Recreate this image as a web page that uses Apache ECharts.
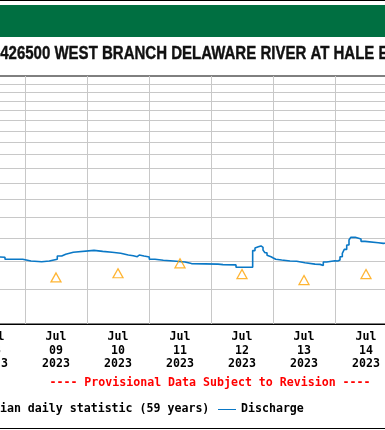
<!DOCTYPE html>
<html><head><meta charset="utf-8">
<script src="https://cdn.jsdelivr.net/npm/echarts@6/dist/echarts.min.js"></script>
<style>html,body{margin:0;padding:0;background:#fff}#c{width:385px;height:430px}</style>
</head><body><div id="c"></div>
<script>
const titleText = '01426500 WEST BRANCH DELAWARE RIVER AT HALE EDDY NY';
const provisionalText = '---- Provisional Data Subject to Revision ----';
const medianLegend = 'Median daily statistic (59 years)';
const dischargeLegend = 'Discharge';

const dischargeTimes = [
 '2023-07-08 00:00','2023-07-08 14:19','2023-07-08 16:15','2023-07-08 23:07','2023-07-09 02:19',
 '2023-07-09 06:28','2023-07-09 06:51','2023-07-09 09:25','2023-07-09 12:30','2023-07-09 14:13',
 '2023-07-09 15:45','2023-07-09 18:42','2023-07-10 02:43','2023-07-10 06:05','2023-07-10 09:41',
 '2023-07-10 13:03','2023-07-10 15:59','2023-07-10 17:55','2023-07-10 19:28','2023-07-10 20:15',
 '2023-07-10 22:04','2023-07-11 00:07','2023-07-11 02:19','2023-07-11 05:32','2023-07-11 09:25',
 '2023-07-11 10:04','2023-07-11 13:56','2023-07-11 16:27','2023-07-11 16:39','2023-07-12 02:43',
 '2023-07-12 04:39','2023-07-12 09:41','2023-07-12 16:08','2023-07-12 17:02','2023-07-12 17:48',
 '2023-07-12 18:19','2023-07-12 19:21','2023-07-12 20:08','2023-07-12 20:54','2023-07-12 21:41',
 '2023-07-12 22:27','2023-07-12 23:14','2023-07-13 00:07','2023-07-13 01:03','2023-07-13 03:23',
 '2023-07-13 06:35','2023-07-13 09:10','2023-07-13 09:30','2023-07-13 09:47','2023-07-13 12:23',
 '2023-07-13 16:16','2023-07-13 18:12','2023-07-13 18:35','2023-07-13 19:28','2023-07-13 20:47',
 '2023-07-13 21:25','2023-07-14 00:00','2023-07-14 01:03','2023-07-14 01:56','2023-07-14 02:50',
 '2023-07-14 03:36','2023-07-14 04:32','2023-07-14 05:25','2023-07-14 06:05','2023-07-14 07:50',
 '2023-07-14 10:04','2023-07-14 11:37','2023-07-14 16:46','2023-07-14 18:42','2023-07-15 00:00'
];
const dischargeValues = [
 618,617,609,602,599,
 595,602,609,622,629,
 637,645,641,637,633,
 626,623,619,626,622,
 618,609,605,602,595,
 598,592,595,590,588,
 587,578,644,655,660,
 664,658,646,635,625,
 619,614,609,606,602,
 601,595,598,595,590,
 589,587,585,598,594,
 603,602,606,619,633,
 649,668,690,702,694,
 684,678,675,678,678
];

const medianTimes = ['2023-07-08 12:00','2023-07-09 12:00','2023-07-10 12:00','2023-07-11 12:00','2023-07-12 12:00','2023-07-13 12:00','2023-07-14 12:00'];
const medianValues = [545, 541, 556, 593, 553, 532, 553];

const dayStarts = ['2023-07-08 00:00','2023-07-15 00:00'];
const labelTimes = ['2023-07-08 12:00','2023-07-09 12:00','2023-07-10 12:00','2023-07-11 12:00','2023-07-12 12:00','2023-07-13 12:00','2023-07-14 12:00'];
const tickLabels = ['Jul\n08\n2023','Jul\n09\n2023','Jul\n10\n2023','Jul\n11\n2023','Jul\n12\n2023','Jul\n13\n2023','Jul\n14\n2023'];
const yGridValues = [500,600,700,800,900,1000,1100,1200,1300,1400,1500,1600,1700,1800,1900];
const yMin = 400, yMax = 2000;

function utc(s) {
  const [d, t] = s.split(' ');
  const [Y, M, D] = d.split('-').map(Number);
  const [h, m] = t.split(':').map(Number);
  return Date.UTC(Y, M - 1, D, h, m);
}
const DAY = 86400000;
const labelMs = labelTimes.map(utc);
const mono = "'DejaVu Sans Mono', 'Liberation Mono', monospace";
const blue = '#0a78c6';

// fit the (horizontally condensed) title so that "426500" starts near the left edge and "EDDY" is cut at the right edge
const titleFont = "bold 18px 'Liberation Sans', Arial, sans-serif";
const mctx = document.createElement('canvas').getContext('2d');
mctx.font = titleFont;
const wLead = mctx.measureText('01').width;
const wSpan = mctx.measureText('426500 WEST BRANCH DELAWARE RIVER AT HALE ').width;
const titleScale = 378.3 / wSpan;
const titleX = 0.2 - titleScale * wLead;

const chart = echarts.init(document.getElementById('c'), null, {renderer: 'canvas'});
chart.setOption({
  animation: false,
  backgroundColor: '#fff',
  grid: {left: -37, right: -12, top: 76, bottom: 106, outerBoundsMode: 'none', containLabel: false,
         show: true, borderColor: '#000', borderWidth: 1, backgroundColor: 'transparent'},
  xAxis: {
    type: 'value', min: utc(dayStarts[0]), max: utc(dayStarts[1]), interval: DAY,
    axisLine: {show: true, lineStyle: {color: '#000', width: 1}},
    axisTick: {show: false},
    splitLine: {show: true, lineStyle: {color: '#c8c8c8', width: 1}},
    axisLabel: {
      customValues: labelMs,
      formatter: function (v) {
        let best = 0;
        for (let i = 0; i < labelMs.length; i++) if (Math.abs(labelMs[i] - v) < Math.abs(labelMs[best] - v)) best = i;
        return tickLabels[best];
      },
      color: '#000', fontFamily: mono, fontWeight: 'bold', fontSize: 11.6, lineHeight: 13.5, margin: 6.5
    }
  },
  yAxis: {
    type: 'log', min: yMin, max: yMax, logBase: 10,
    axisLine: {show: false},
    axisLabel: {show: false},
    axisTick: {show: false, customValues: yGridValues},
    splitLine: {show: true, lineStyle: {color: '#c8c8c8', width: 1}}
  },
  series: [
    {
      name: dischargeLegend, type: 'line', step: 'end', showSymbol: false, z: 3,
      lineStyle: {color: blue, width: 1.6},
      data: dischargeTimes.map((t, i) => [utc(t), dischargeValues[i]])
    },
    {
      name: medianLegend, type: 'scatter', symbol: 'triangle', symbolSize: [10, 9], z: 4,
      itemStyle: {color: 'rgba(0,0,0,0)', borderColor: '#ffa200', borderWidth: 1.3},
      data: medianTimes.map((t, i) => [utc(t), medianValues[i]])
    }
  ],
  graphic: [
    {type: 'rect', shape: {x: 0, y: 0, width: 385, height: 1}, style: {fill: '#000'}},
    {type: 'rect', shape: {x: 0, y: 5, width: 385, height: 32}, style: {fill: '#006f41'}},
    {type: 'text', x: titleX, y: 54.5, scaleX: titleScale, style: {text: titleText, font: titleFont, fill: '#111', stroke: '#111', lineWidth: 0.4, textAlign: 'left', textVerticalAlign: 'middle'}},
    {type: 'text', x: 210, y: 382.7, style: {text: provisionalText, fontFamily: mono, fontWeight: 'bold', fontSize: 11.6, fill: '#ff0000', textAlign: 'center', textVerticalAlign: 'middle'}},
    {type: 'polygon', shape: {points: [[-34, 413], [-24, 413], [-29, 405]]}, style: {fill: 'none', stroke: '#ffa200', lineWidth: 1}},
    {type: 'text', x: -21, y: 409, style: {text: medianLegend, fontFamily: mono, fontWeight: 'bold', fontSize: 11.6, fill: '#000', textAlign: 'left', textVerticalAlign: 'middle'}},
    {type: 'line', shape: {x1: 218, y1: 409.5, x2: 236, y2: 409.5}, style: {stroke: blue, lineWidth: 1}},
    {type: 'text', x: 241, y: 409, style: {text: dischargeLegend, fontFamily: mono, fontWeight: 'bold', fontSize: 11.6, fill: '#000', textAlign: 'left', textVerticalAlign: 'middle'}},
    {type: 'rect', shape: {x: 0, y: 428, width: 385, height: 1}, style: {fill: '#000'}}
  ]
});
</script></body></html>
